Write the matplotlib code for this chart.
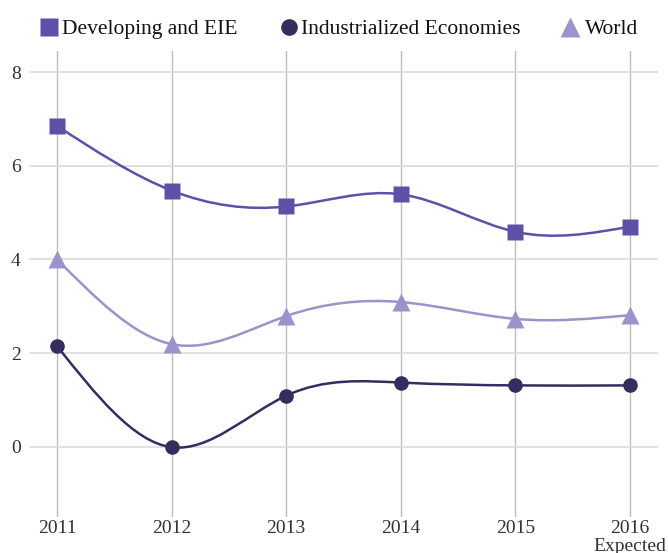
import numpy as np
import matplotlib
matplotlib.use("Agg")
import matplotlib.pyplot as plt
from matplotlib.path import Path
from matplotlib.patches import PathPatch
from matplotlib.lines import Line2D

years = ["2011", "2012", "2013", "2014", "2015", "2016\nExpected"]
developing = [6.85, 5.47, 5.13, 5.39, 4.59, 4.70]
industrialized = [2.15, -0.01, 1.09, 1.37, 1.31, 1.31]
world = [4.0, 2.19, 2.79, 3.09, 2.73, 2.81]
series_names = ["Developing and EIE", "Industrialized Economies", "World"]
colors = ["#5d51a7", "#352c60", "#9d92c9"]
markers = ["s", "o", "^"]
msizes = [11, 10.5, 12.5]

plt.rcParams['font.family'] = ['Liberation Serif', 'DejaVu Serif']

W, H = 668, 553
fig = plt.figure(figsize=(W/100, H/100), dpi=100)
ax = fig.add_axes([29/W, 1-517/H, (658-29)/W, (517-51)/H])


def natural_spline_path(xs, ys):
    xs = np.asarray(xs, float); ys = np.asarray(ys, float)
    n = len(xs)
    A = np.zeros((n, n)); b = np.zeros(n)
    A[0, 0] = 1; A[-1, -1] = 1
    for i in range(1, n-1):
        A[i, i-1] = 1; A[i, i] = 4; A[i, i+1] = 1
        b[i] = 6*(ys[i+1]-2*ys[i]+ys[i-1])
    M = np.linalg.solve(A, b)
    verts = [(xs[0], ys[0])]; codes = [Path.MOVETO]
    for i in range(n-1):
        s = ys[i+1]-ys[i]
        d0 = s - (2*M[i]+M[i+1])/6
        d1 = s + (M[i]+2*M[i+1])/6
        verts += [(xs[i]+1/3, ys[i]+d0/3), (xs[i+1]-1/3, ys[i+1]-d1/3), (xs[i+1], ys[i+1])]
        codes += [Path.CURVE4]*3
    return Path(verts, codes)

x = np.arange(len(years))
data = [developing, industrialized, world]
order = [2, 0, 1]
for k in order:
    p = natural_spline_path(x, data[k])
    ax.add_patch(PathPatch(p, facecolor='none', edgecolor=colors[k], lw=1.8, zorder=3))
    ax.plot(x, data[k], linestyle='none', marker=markers[k], ms=msizes[k],
            color=colors[k], mec='none', zorder=4, clip_on=False)

ax.set_xlim(-0.245, 5.245)
ax.set_ylim(-1.5, 8.45)
ax.set_yticks([0, 2, 4, 6, 8])
ax.set_xticks(x)
ax.set_xticklabels(years, linespacing=1.1)
for s in ax.spines.values():
    s.set_visible(False)
ax.tick_params(length=0, labelsize=14, colors='#333333')
ax.tick_params(axis='y', pad=6)
ax.tick_params(axis='x', pad=2)
ax.grid(axis='y', color='#d8d8d8', lw=1.1)
ax.grid(axis='x', color='#bdbdbd', lw=1.0)
ax.set_axisbelow(True)

# legend, placed by hand
leg_marker_x = [49, 289, 570]
leg_text_x = [62, 301, 585]
leg_y = 27
for k in range(3):
    fig.add_artist(Line2D([leg_marker_x[k]/W], [1-leg_y/H], transform=fig.transFigure,
                          linestyle='none', marker=markers[k], ms=msizes[k]+1.5,
                          color=colors[k], mec='none'))
    fig.text(leg_text_x[k]/W, 1-leg_y/H, series_names[k], fontsize=15.5,
             color='#111111', ha='left', va='center_baseline')

fig.savefig("out.png", dpi=100)
